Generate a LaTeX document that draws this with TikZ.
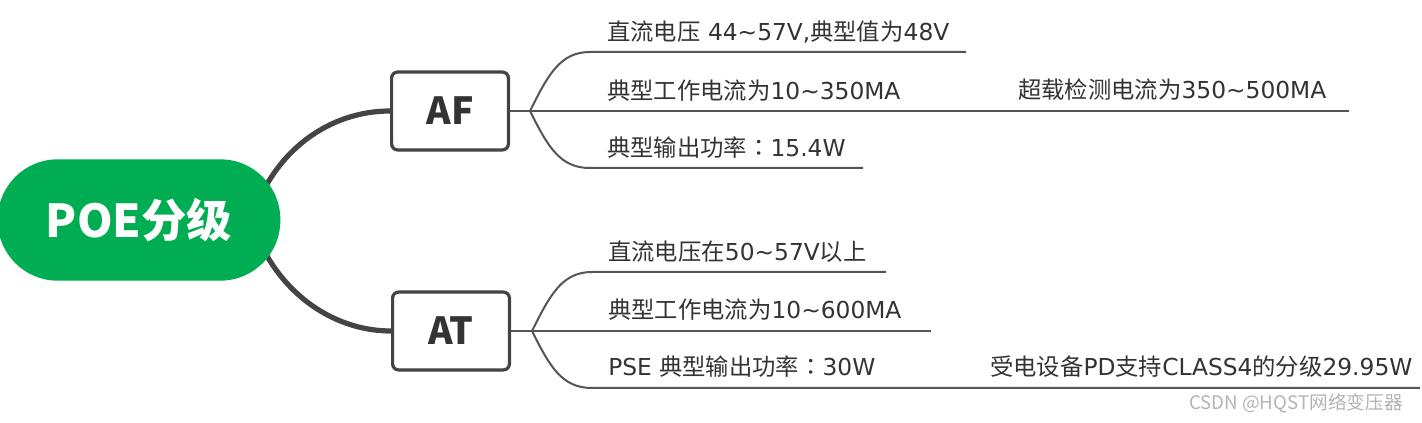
\documentclass[tikz,border=0pt]{standalone}
\usepackage{fontspec}
\setmainfont{Noto Sans CJK SC}
\newfontfamily\latfont{DejaVu Sans}
\newfontfamily\tcfont{Noto Sans CJK TC}
\newcommand{\lat}[1]{{\latfont #1}}
\newcommand{\fcolon}{{\tcfont ：}}
\usetikzlibrary{backgrounds}
\definecolor{mapgreen}{HTML}{00AD52}
\definecolor{inkgray}{HTML}{333333}
\definecolor{linegray}{HTML}{555555}
\definecolor{trunkgray}{HTML}{444444}
\definecolor{markgray}{HTML}{B4B4B4}

\begin{document}
\begin{tikzpicture}[
    x=0.75pt,y=-0.75pt,
    rootpill/.style={fill=mapgreen,rounded corners=45pt,minimum width=212pt,minimum height=91pt,inner sep=0pt,text=white,font=\fontsize{34}{40}\selectfont\bfseries},
    subbox/.style={draw=trunkgray,line width=2.4pt,fill=white,rounded corners=4.5pt,minimum width=87.6pt,minimum height=58.4pt,inner sep=0pt,text=inkgray,font=\fontsize{28}{32}\selectfont\bfseries},
    leaf/.style={anchor=base west,inner sep=0pt,text=inkgray,font=\fontsize{17.5}{20}\selectfont},
    trunk/.style={draw=trunkgray,line width=3.9pt},
    twig/.style={draw=linegray,line width=1.5pt},
    wmark/.style={anchor=base west,inner sep=0pt,text=markgray,font=\fontsize{14}{16}\selectfont}
  ]
  \useasboundingbox (0,0) rectangle (1422,423);

  % main topic and the two sub topics
  \node[rootpill] (root) at (139,220) {POE分级};
  \node[subbox] (af) at (450,111) {AF};
  \node[subbox] (at) at (451,331) {AT};

  \begin{scope}[on background layer]
    \draw[trunk] ([xshift=-22pt]root.east) .. controls +(22,-70) and +(-60,0) .. (af.west);
    \draw[trunk] ([xshift=-22pt]root.east) .. controls +(22,70) and +(-60,0) .. (at.west);
  \end{scope}

  % AF branch
  \coordinate (afFork) at (530,111);
  \coordinate (afEnd1) at (966,52);
  \coordinate (afEnd2) at (1349,111);
  \coordinate (afEnd3) at (863,168);
  \draw[twig] (af.east) -- (afFork);
  \draw[twig] (afFork) .. controls +(18,-36) and +(-30,0) .. ++(60,-59) -- (afEnd1);
  \draw[twig] (afFork) -- (afEnd2);
  \draw[twig] (afFork) .. controls +(18,36) and +(-30,0) .. ++(60,57) -- (afEnd3);
  \node[leaf] (af1) at (607,41) {直流电压\lat{ 44\textasciitilde57V,}典型值为\lat{48V}};
  \node[leaf] (af2) at (607,100) {典型工作电流为\lat{10\textasciitilde350MA}};
  \node[leaf] (af2x) at (1018,99) {超载检测电流为\lat{350\textasciitilde500MA}};
  \node[leaf] (af3) at (607,157) {典型输出功率\fcolon\lat{15.4W}};

  % AT branch
  \coordinate (atFork) at (532,331);
  \coordinate (atEnd1) at (886,272);
  \coordinate (atEnd2) at (931,331);
  \coordinate (atEnd3) at (1420,388);
  \draw[twig] (at.east) -- (atFork);
  \draw[twig] (atFork) .. controls +(18,-36) and +(-30,0) .. ++(60,-59) -- (atEnd1);
  \draw[twig] (atFork) -- (atEnd2);
  \draw[twig] (atFork) .. controls +(18,36) and +(-30,0) .. ++(60,57) -- (atEnd3);
  \node[leaf] (at1) at (608,261) {直流电压在\lat{50\textasciitilde57V}以上};
  \node[leaf] (at2) at (608,319) {典型工作电流为\lat{10\textasciitilde600MA}};
  \node[leaf] (at3) at (608,376) {\lat{PSE }典型输出功率\fcolon\lat{30W}};
  \node[leaf] (at3x) at (990,376) {受电设备\lat{PD}支持\lat{CLASS4}的分级\lat{29.95W}};

  \node[wmark] (csdn) at (1189,410) {CSDN @HQST网络变压器};
\end{tikzpicture}
\end{document}
